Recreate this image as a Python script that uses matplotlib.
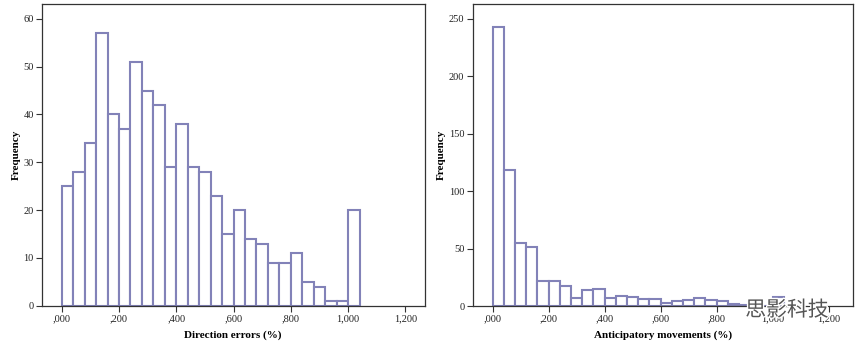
import numpy as np
import matplotlib
matplotlib.use("Agg")
import matplotlib.pyplot as plt
import matplotlib.patheffects as pe

plt.rcParams['font.family'] = ['Liberation Serif', 'DejaVu Serif']

# bin left edges (width 0.04) and counts
bin_width = 0.04
dir_counts = [25, 28, 34, 57, 40, 37, 51, 45, 42, 29, 38, 29, 28, 23, 15,
              20, 14, 13, 9, 9, 11, 5, 4, 1, 1, 20]
ant_counts = [243, 118, 55, 51, 22, 22, 17, 7, 14, 15, 7, 9, 8, 6, 6,
              3, 4, 5, 7, 5, 4, 2, 1, 1, 0, 8]
xticks = [0, 0.2, 0.4, 0.6, 0.8, 1.0, 1.2]
xticklabels = [",000", ",200", ",400", ",600", ",800", "1,000", "1,200"]

edge = "#8282b8"
spine_c = "#333333"

fig = plt.figure(figsize=(8.56, 3.5), dpi=100)
W, H = 856, 350
ax1 = fig.add_axes([42 / W, 1 - 305.7 / H, (424.5 - 42) / W, (305.7 - 4) / H])
ax2 = fig.add_axes([472.7 / W, 1 - 306 / H, (852.7 - 472.7) / W, (306 - 4) / H])

def hist(ax, counts, xlim, ylim, yticks, xlabel, label_off):
    lefts = np.arange(len(counts)) * bin_width
    ax.bar(lefts, counts, width=bin_width, align="edge", facecolor="white",
           edgecolor=edge, linewidth=1.5)
    ax.set_xlim(*xlim)
    ax.set_ylim(*ylim)
    ax.set_xticks(xticks)
    ax.set_xticklabels(xticklabels)
    ax.set_yticks(yticks)
    ax.tick_params(labelsize=7.5, length=4, width=0.8, color=spine_c, pad=2,
                   labelcolor="#222222")
    for s in ax.spines.values():
        s.set_color(spine_c)
        s.set_linewidth(0.9)
    ax.set_xlabel(xlabel, fontsize=8, fontweight="bold", labelpad=5)
    ax.set_ylabel("Frequency", fontsize=8, fontweight="bold")
    width_px = ax.get_position().width * W
    ax.yaxis.set_label_coords(-label_off / width_px, 0.5)

hist(ax1, dir_counts, (-0.069, 1.267), (0, 63.1), range(0, 61, 10),
     "Direction errors (%)", 21)
hist(ax2, ant_counts, (-0.071, 1.286), (0, 262.8), range(0, 251, 50),
     "Anticipatory movements (%)", 27)

# watermark
fig.text(787 / W, 1 - 310 / H, "思影科技", family=["Noto Sans CJK SC", "DejaVu Sans"],
         fontsize=15, color="#555555", ha="center", va="center",
         path_effects=[pe.withStroke(linewidth=2, foreground="white")])

fig.savefig("out.png", dpi=100)
